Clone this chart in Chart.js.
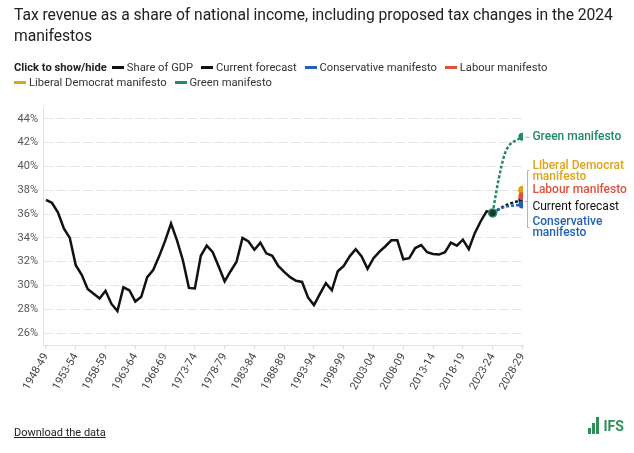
<!DOCTYPE html>
<html>
  <head>
    <script src="https://cdn.jsdelivr.net/npm/chart.js"></script>
    <meta charset="utf-8">
    <style>
      body { margin: 0; background: #fff; font-family: Roboto, sans-serif; color: #222; }
      .wrap { position: relative; width: 634px; height: 453px; overflow: hidden; }
      canvas { position: absolute; left: 0; top: 0; }
      .title { position: absolute; left: 14px; top: 4px; width: 625px; font-size: 15.7px; line-height: 21px; letter-spacing: -0.05px; }
      .legend { position: absolute; left: 14px; top: 60px; width: 600px; font-size: 11.2px; line-height: 15px; color: #333; }
      .legend b { font-weight: 700; color: #222; margin-right: 5px; }
      .legend span.item { margin-right: 5px; white-space: nowrap; }
      .legend i { display: inline-block; width: 12px; height: 3px; vertical-align: middle; margin-right: 3px; position: relative; top: -1px; }
      .dl { position: absolute; left: 14px; top: 426px; font-size: 11px; text-decoration: underline; color: #222; }
      .logo { position: absolute; left: 588px; top: 417px; height: 20px; color: #2f8f58; font-weight: 700; font-size: 14px; }
      .logo i { display: inline-block; width: 3px; background: #2f8f58; margin-right: 1px; vertical-align: bottom; }
    </style>
  </head>
  <body>
    <div class="wrap">
      <canvas id="gura" width="634" height="453"></canvas>
      <div class="title">Tax revenue as a share of national income, including proposed tax changes in the 2024 manifestos</div>
      <div class="legend" id="leg"></div>
      <div class="dl">Download the data</div>
      <div class="logo"><i style="height:6px"></i><i style="height:11px"></i><i style="height:17px"></i> IFS</div>
    </div>
    <script>
      // 年度（開始年）
      const startYear = 1948;
      const tickYears = [1948, 1953, 1958, 1963, 1968, 1973, 1978, 1983, 1988, 1993, 1998, 2003, 2008, 2013, 2018, 2023, 2028];
      const tickLabels = ["1948-49", "1953-54", "1958-59", "1963-64", "1968-69", "1973-74", "1978-79", "1983-84", "1988-89", "1993-94",
                          "1998-99", "2003-04", "2008-09", "2013-14", "2018-19", "2023-24", "2028-29"];
      const yTicks = [26, 28, 30, 32, 34, 36, 38, 40, 42, 44];

      // Share of GDP 1948-49 .. 2023-24
      const shareOfGdp = [37.2, 36.95, 36.15, 34.8, 34.0, 31.7, 30.9, 29.7, 29.3, 28.9,
                          29.55, 28.45, 27.85, 29.85, 29.6, 28.65, 29.05, 30.7, 31.3, 32.45,
                          33.75, 35.2, 33.8, 32.1, 29.8, 29.75, 32.5, 33.35, 32.8, 31.6,
                          30.35, 31.2, 32.0, 34.0, 33.7, 33.0, 33.6, 32.7, 32.5, 31.65,
                          31.15, 30.7, 30.4, 30.3, 29.0, 28.35, 29.3, 30.2, 29.6, 31.2,
                          31.65, 32.45, 33.05, 32.45, 31.4, 32.3, 32.85, 33.3, 33.8, 33.8,
                          32.2, 32.3, 33.15, 33.4, 32.8, 32.65, 32.6, 32.8, 33.6, 33.35,
                          33.85, 33.05, 34.4, 35.4, 36.25, 36.1];

      // 予測 2023-24 .. 2028-29
      const forecastStart = 2023;
      const currentForecast = [36.1, 36.4, 36.7, 36.9, 37.05, 37.2];
      const conservative = [36.1, 36.4, 36.6, 36.7, 36.75, 36.8];
      const labour = [null, null, null, null, null, 37.5];
      const libDem = [null, null, null, null, null, 38.0];
      const green = [36.1, 38.9, 41.0, 41.9, 42.2, 42.5];

      const colBlack = '#111';
      const colBlue = '#1f62b8';
      const colRed = '#e2503d';
      const colGold = '#e0a419';
      const colGreen = '#22896a';

      function pts(arr, y0) {
        return arr.map((v, i) => ({ x: y0 + i, y: v }));
      }
      function endOnly(n, r) {
        const a = new Array(n).fill(0); a[n - 1] = r; return a;
      }

      // 凡例（HTML）
      const legItems = [
        ['Share of GDP', colBlack], ['Current forecast', colBlack], ['Conservative manifesto', colBlue],
        ['Labour manifesto', colRed], ['Liberal Democrat manifesto', colGold], ['Green manifesto', colGreen]
      ];
      let legHtml = '<b>Click to show/hide</b>';
      legItems.forEach((it, k) => {
        legHtml += '<span class="item" data-k="' + k + '"><i style="background:' + it[1] + '"></i>' + it[0] + '</span> ';
      });
      document.getElementById('leg').innerHTML = legHtml;

      // 右側のラベル
      const sideLabels = {
        id: 'sideLabels',
        afterDatasetsDraw(chart) {
          const ctx = chart.ctx;
          const xs = chart.scales.x, ys = chart.scales.y;
          const xEnd = xs.getPixelForValue(2028);
          const lx = xEnd + 10;
          ctx.save();
          ctx.font = '500 12px Roboto';
          ctx.textBaseline = 'middle';
          ctx.textAlign = 'left';
          const gy = ys.getPixelForValue(green[5]);
          ctx.strokeStyle = '#aaa'; ctx.lineWidth = 1;
          ctx.beginPath(); ctx.moveTo(xEnd + 3, gy + 0.5); ctx.lineTo(xEnd + 7, gy + 0.5); ctx.stroke();
          ctx.fillStyle = colGreen; ctx.fillText('Green manifesto', lx, gy);
          ctx.fillStyle = colGold; ctx.fillText('Liberal Democrat', lx, 166); ctx.fillText('manifesto', lx, 177);
          ctx.fillStyle = colRed; ctx.fillText('Labour manifesto', lx, 190);
          ctx.fillStyle = '#111'; ctx.font = '12px Roboto'; ctx.fillText('Current forecast', lx, 207);
          ctx.font = '500 12px Roboto';
          ctx.fillStyle = colBlue; ctx.fillText('Conservative', lx, 222); ctx.fillText('manifesto', lx, 233);
          // ブラケット
          const bx = Math.round(xEnd + 5) + 0.5;
          ctx.strokeStyle = '#b5b5b5';
          ctx.beginPath();
          ctx.moveTo(bx + 2, 170.5); ctx.lineTo(bx, 170.5); ctx.lineTo(bx, 227.5); ctx.lineTo(bx + 2, 227.5);
          ctx.moveTo(bx - 3, 201.5); ctx.lineTo(bx, 201.5);
          ctx.stroke();
          ctx.restore();
        }
      };

      const ctx = document.getElementById('gura').getContext('2d');
      const chart = new Chart(ctx, {
        type: 'line',
        data: {
          datasets: [
            {
              label: 'Share of GDP', data: pts(shareOfGdp, startYear), borderColor: colBlack, borderWidth: 2.5,
              pointRadius: 0, tension: 0, order: 5
            },
            {
              label: 'Current forecast', data: pts(currentForecast, forecastStart), borderColor: colBlack, borderWidth: 2.5,
              borderDash: [3, 2], pointRadius: endOnly(6, 4), pointBackgroundColor: colBlack, pointBorderWidth: 0, order: 4
            },
            {
              label: 'Conservative manifesto', data: pts(conservative, forecastStart), borderColor: colBlue, borderWidth: 2.5,
              borderDash: [3, 2], pointRadius: endOnly(6, 4), pointBackgroundColor: colBlue, pointBorderWidth: 0, order: 1
            },
            {
              label: 'Labour manifesto', data: pts(labour, forecastStart), borderColor: colRed, borderWidth: 2.5,
              borderDash: [3, 2], pointRadius: endOnly(6, 4), pointBackgroundColor: colRed, pointBorderWidth: 0, order: 2
            },
            {
              label: 'Liberal Democrat manifesto', data: pts(libDem, forecastStart), borderColor: colGold, borderWidth: 2.5,
              borderDash: [3, 2], pointRadius: endOnly(6, 4.5), pointBackgroundColor: colGold, pointBorderWidth: 0, order: 3
            },
            {
              label: 'Green manifesto', data: pts(green, forecastStart), borderColor: colGreen, borderWidth: 2.5,
              borderDash: [3, 2], pointRadius: [4, 0, 0, 0, 0, 4],
              pointBackgroundColor: ['#173a30', colGreen, colGreen, colGreen, colGreen, colGreen],
              pointBorderColor: colGreen, pointBorderWidth: [1.5, 0, 0, 0, 0, 0], cubicInterpolationMode: 'monotone', order: 0
            }
          ]
        },
        options: {
          responsive: false,
          animation: false,
          layout: { padding: { top: 107, right: 111, bottom: 38, left: 0 } },
          plugins: { legend: { display: false }, tooltip: { enabled: false } },
          scales: {
            x: {
              type: 'linear', min: startYear - 0.5, max: 2028.1,
              afterBuildTicks(s) { s.ticks = tickYears.map(v => ({ value: v })); },
              afterFit(s) { s.height = 70; },
              grid: { drawOnChartArea: false, drawTicks: true, tickLength: 4, color: '#d8d8d8' },
              border: { display: true, color: '#e2e2e2' },
              ticks: {
                autoSkip: false, minRotation: 60, maxRotation: 60, padding: 2,
                color: '#444', font: { family: 'Roboto', size: 11 },
                callback(v) { const k = tickYears.indexOf(v); return k >= 0 ? tickLabels[k] : ''; }
              }
            },
            y: {
              min: 25, max: 45,
              afterBuildTicks(s) { s.ticks = yTicks.map(v => ({ value: v })); },
              afterFit(s) { s.width = 43; },
              grid: { color: '#e6e6e6', drawTicks: false, lineWidth: 1 },
              border: { display: true, color: '#e2e2e2', dash: [10, 3] },
              ticks: {
                padding: 5, color: '#555', font: { family: 'Roboto', size: 11 },
                callback(v) { return v + '%'; }
              }
            }
          }
        },
        plugins: [sideLabels]
      });

      // クリックで表示/非表示
      document.querySelectorAll('.legend span.item').forEach(el => {
        el.style.cursor = 'pointer';
        el.onclick = () => {
          const k = Number(el.dataset.k);
          chart.setDatasetVisibility(k, !chart.isDatasetVisible(k));
          el.style.opacity = chart.isDatasetVisible(k) ? 1 : 0.4;
          chart.update();
        };
      });
    </script>
  </body>
</html>
